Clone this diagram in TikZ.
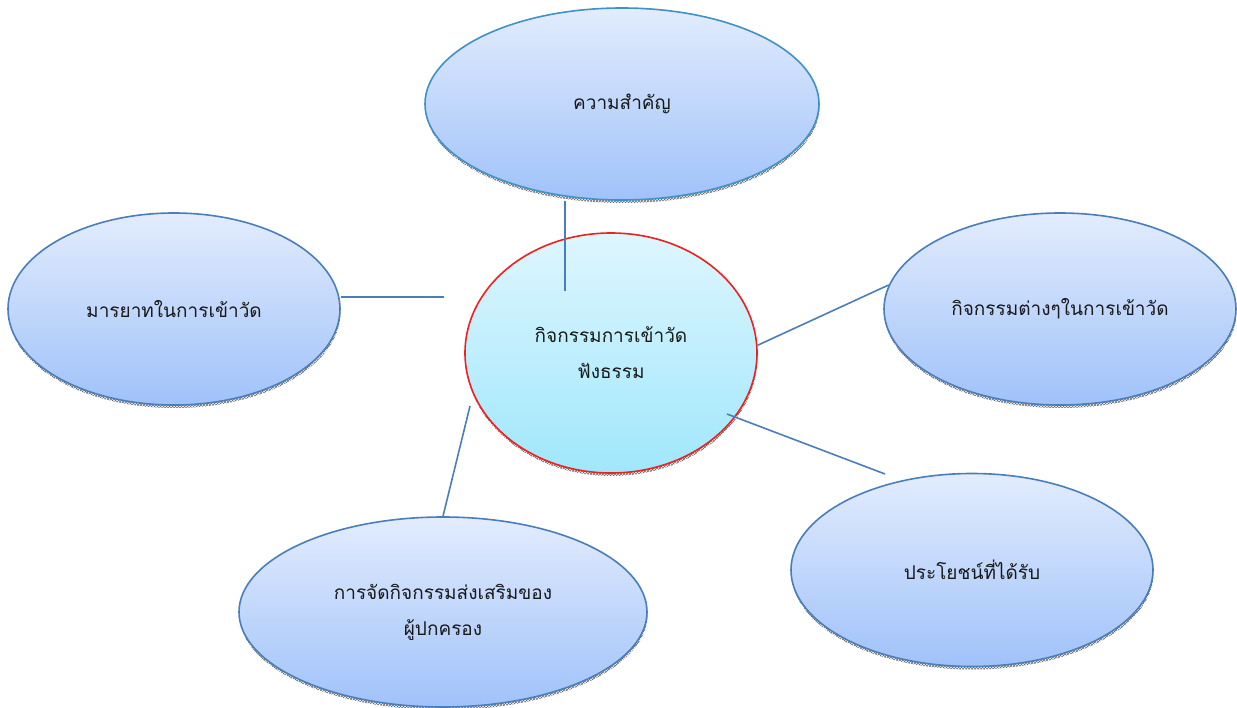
\documentclass[tikz,border=0pt]{standalone}
\usepackage{fontspec}
\usepackage{tikz}
\usetikzlibrary{shapes.geometric,shadows,patterns}
\newfontfamily\thaifont[Script=Thai]{Loma}
\definecolor{bubtop}{RGB}{226,236,253}
\definecolor{bubbot}{RGB}{160,194,250}
\definecolor{hubtop}{RGB}{222,246,254}
\definecolor{hubbot}{RGB}{160,231,252}
\definecolor{bubline}{RGB}{74,126,187}
\definecolor{impline}{RGB}{62,146,200}
\definecolor{hubline}{RGB}{238,32,32}
\tikzstyle{bubble} = [ellipse,draw=bubline,line width=1.6pt,top color=bubtop,bottom color=bubbot,inner sep=0pt,align=center,text=black!90,font=\thaifont\fontsize{19}{36}\selectfont,drop shadow={shadow xshift=0.5pt,shadow yshift=-3pt,pattern=crosshatch,pattern color=black!60,opacity=1}]
\tikzstyle{link} = [draw=bubline,line width=1.6pt]

\begin{document}
\begin{tikzpicture}[yscale=-1]
			\useasboundingbox (0pt,0pt) rectangle (1237pt,708pt);
			\node[bubble,draw=impline,minimum width=394pt,minimum height=192pt] (imp) at (622pt,104pt) {ความสำคัญ};
			\node[bubble,minimum width=332pt,minimum height=192pt] (etiq) at (174pt,309pt) {มารยาทในการเข้าวัด};
			\node[bubble,minimum width=352pt,minimum height=192pt] (acts) at (1060pt,309pt) {กิจกรรมต่างๆในการเข้าวัด};
			\node[bubble,minimum width=408pt,minimum height=190pt] (parent) at (443pt,612pt) {การจัดกิจกรรมส่งเสริมของ\\ผู้ปกครอง};
			\node[bubble,minimum width=362pt,minimum height=193pt] (benefit) at (972pt,570pt) {ประโยชน์ที่ได้รับ};
			\node[bubble,draw=hubline,top color=hubtop,bottom color=hubbot,minimum width=292pt,minimum height=240pt] (hub) at (611pt,353pt) {กิจกรรมการเข้าวัด\\ฟังธรรม};
			\coordinate (hubA) at (565pt,291pt);
			\coordinate (hubB) at (444pt,297pt);
			\coordinate (hubD) at (727pt,414pt);
			\coordinate (benD) at (885pt,474pt);
			\coordinate (hubE) at (470pt,406pt);
			\draw[link] (hubA |- imp.south) -- (hubA);
			\draw[link] (etiq.east |- hubB) -- (hubB);
			\draw[link] (hub.3) -- (acts.172);
			\draw[link] (hubD) -- (benD);
			\draw[link] (parent.north) -- (hubE);
		\end{tikzpicture}
\end{document}
